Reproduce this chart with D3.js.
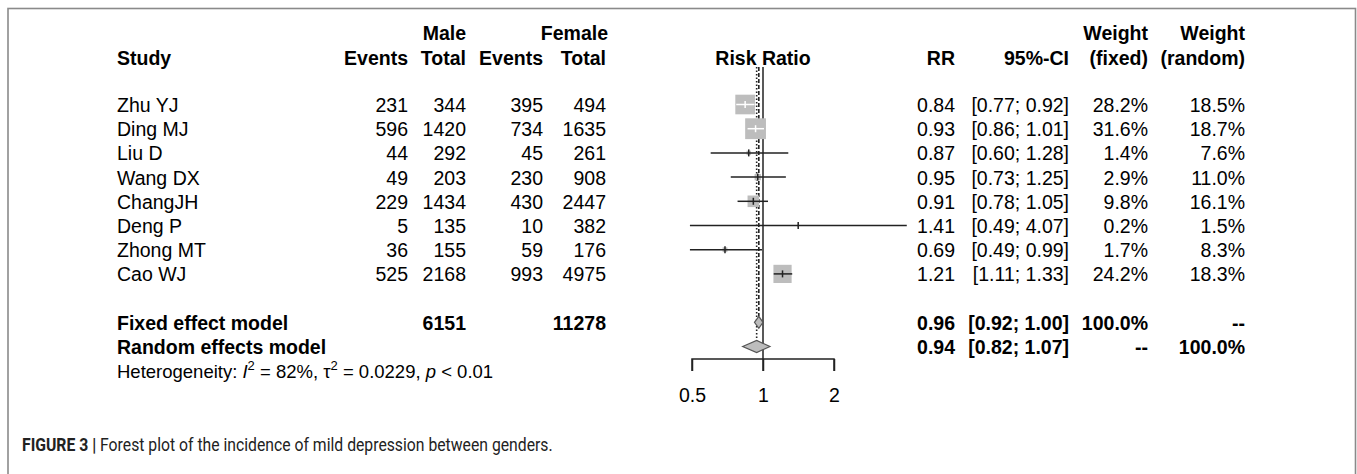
<!DOCTYPE html>
<html>
<head>
<meta charset="utf-8">
<script src="https://cdn.jsdelivr.net/npm/d3@7/dist/d3.min.js"></script>
<style>
  html, body { margin: 0; padding: 0; background: #fff; }
  svg { display: block; font-family: "Liberation Sans", Arial, sans-serif; }
</style>
</head>
<body>
<svg id="chart" width="1357" height="474"></svg>
<script>
// ---------- data ----------
const studies = ["Zhu YJ", "Ding MJ", "Liu D", "Wang DX", "ChangJH", "Deng P", "Zhong MT", "Cao WJ"];
const maleEvents = [231, 596, 44, 49, 229, 5, 36, 525];
const maleTotal = [344, 1420, 292, 203, 1434, 135, 155, 2168];
const femaleEvents = [395, 734, 45, 230, 430, 10, 59, 993];
const femaleTotal = [494, 1635, 261, 908, 2447, 382, 176, 4975];
const rr = [0.84, 0.93, 0.87, 0.95, 0.91, 1.41, 0.69, 1.21];
const lower = [0.77, 0.86, 0.60, 0.73, 0.78, 0.49, 0.49, 1.11];
const upper = [0.92, 1.01, 1.28, 1.25, 1.05, 4.07, 0.99, 1.33];
const weightFixed = [28.2, 31.6, 1.4, 2.9, 9.8, 0.2, 1.7, 24.2];
const weightRandom = [18.5, 18.7, 7.6, 11.0, 16.1, 1.5, 8.3, 18.3];
const pooledLabels = ["Fixed effect model", "Random effects model"];
const pooledMaleTotal = [6151, null];
const pooledFemaleTotal = [11278, null];
const pooledRR = [0.96, 0.94];
const pooledLower = [0.92, 0.82];
const pooledUpper = [1.00, 1.07];
const pooledWFixed = ["100.0%", "--"];
const pooledWRandom = ["--", "100.0%"];
const axisTicks = [0.5, 1, 2];

// ---------- setup ----------
const svg = d3.select("#chart");
const FS = 19.5;
const x = d3.scaleLog().domain([0.5, 2]).range([692, 834]);
const rowY = d3.scaleLinear().domain([0, 1]).range([104.5, 128.7]);
const sq = d3.scaleSqrt().domain([0, 31.6]).range([0, 20.8]);
const f2 = d3.format(".2f");
const f1 = d3.format(".1f");
const lineCol = "#222";

// frame
svg.append("rect").attr("x", 8).attr("y", 8.5).attr("width", 1347.5).attr("height", 480)
  .attr("fill", "none").attr("stroke", "#8a8a8a").attr("stroke-width", 1.6);

// column right edges
const col = { study: 117, mE: 408, mT: 466, fE: 543, fT: 606, rr: 955, ci: 1069, wf: 1148, wr: 1245 };

function txt(xp, yp, s, anchor, bold, size) {
  return svg.append("text").attr("x", xp).attr("y", yp)
    .attr("text-anchor", anchor || "end")
    .attr("font-size", size || FS)
    .attr("font-weight", bold ? "bold" : "normal")
    .attr("fill", "#000").text(s);
}

// ---------- headers ----------
const h1 = 39.5, h2 = 64.5;
txt(col.mT, h1, "Male", "end", true);
txt(col.fT + 2, h1, "Female", "end", true);
txt(col.wf, h1, "Weight", "end", true);
txt(col.wr, h1, "Weight", "end", true);
txt(col.study, h2, "Study", "start", true);
txt(col.mE, h2, "Events", "end", true);
txt(col.mT, h2, "Total", "end", true);
txt(col.fE, h2, "Events", "end", true);
txt(col.fT, h2, "Total", "end", true);
txt(x(1), h2, "Risk Ratio", "middle", true);
txt(col.rr, h2, "RR", "end", true);
txt(col.ci, h2, "95%-CI", "end", true);
txt(col.wf, h2, "(fixed)", "end", true);
txt(col.wr, h2, "(random)", "end", true);

// ---------- reference lines ----------
const topY = 67;
svg.append("line").attr("x1", x(1)).attr("x2", x(1)).attr("y1", topY).attr("y2", 371)
  .attr("stroke", lineCol).attr("stroke-width", 1.5);
// fixed (dashed) to fixed diamond
svg.append("line").attr("x1", x(pooledRR[0])).attr("x2", x(pooledRR[0]))
  .attr("y1", topY).attr("y2", rowY(9) - 6)
  .attr("stroke", "#222").attr("stroke-width", 1.6).attr("stroke-dasharray", "4,2");
// random (dotted) to random diamond
svg.append("line").attr("x1", x(pooledRR[1])).attr("x2", x(pooledRR[1]))
  .attr("y1", topY).attr("y2", rowY(10) - 6)
  .attr("stroke", "#222").attr("stroke-width", 1.6).attr("stroke-dasharray", "1.5,2");

// ---------- study rows ----------
studies.forEach((s, i) => {
  const y = rowY(i), b = y + 7.5;
  txt(col.study, b, s, "start");
  txt(col.mE, b, maleEvents[i]);
  txt(col.mT, b, maleTotal[i]);
  txt(col.fE, b, femaleEvents[i]);
  txt(col.fT, b, femaleTotal[i]);
  txt(col.rr, b, f2(rr[i]));
  txt(col.ci, b, "[" + f2(lower[i]) + "; " + f2(upper[i]) + "]");
  txt(col.wf, b, f1(weightFixed[i]) + "%");
  txt(col.wr, b, f1(weightRandom[i]) + "%");

  const side = sq(weightFixed[i]);
  const cx = x(rr[i]);
  svg.append("rect").attr("x", cx - side / 2).attr("y", y - side / 2)
    .attr("width", side).attr("height", side).attr("fill", "#bdbdbd");
  const inside = x(lower[i]) >= cx - side / 2 && x(upper[i]) <= cx + side / 2;
  const c = inside ? "#fff" : lineCol;
  svg.append("line").attr("x1", x(lower[i])).attr("x2", x(upper[i]))
    .attr("y1", y).attr("y2", y).attr("stroke", c).attr("stroke-width", 1.5);
  svg.append("line").attr("x1", cx).attr("x2", cx)
    .attr("y1", y - 3.5).attr("y2", y + 3.5).attr("stroke", c).attr("stroke-width", 1.5);
});

// ---------- pooled rows ----------
pooledLabels.forEach((s, k) => {
  const y = rowY(9 + k), b = y + 7.5;
  txt(col.study, b, s, "start", true);
  if (pooledMaleTotal[k] != null) txt(col.mT, b, pooledMaleTotal[k], "end", true);
  if (pooledFemaleTotal[k] != null) txt(col.fT, b, pooledFemaleTotal[k], "end", true);
  txt(col.rr, b, f2(pooledRR[k]), "end", true);
  txt(col.ci, b, "[" + f2(pooledLower[k]) + "; " + f2(pooledUpper[k]) + "]", "end", true);
  txt(col.wf, b, pooledWFixed[k], "end", true);
  txt(col.wr, b, pooledWRandom[k], "end", true);
  const h = 6;
  const pts = [[x(pooledLower[k]), y], [x(pooledRR[k]), y - h], [x(pooledUpper[k]), y], [x(pooledRR[k]), y + h]];
  svg.append("path").attr("d", d3.line()(pts) + "Z")
    .attr("fill", "#bdbdbd").attr("stroke", "#555").attr("stroke-width", 1.2);
});

// heterogeneity
const het = svg.append("text").attr("x", col.study).attr("y", rowY(11) + 7)
  .attr("font-size", 18.5).attr("fill", "#000");
het.append("tspan").text("Heterogeneity: ");
het.append("tspan").attr("font-style", "italic").text("I");
het.append("tspan").attr("font-size", 13).attr("dy", -8).text("2");
het.append("tspan").attr("dy", 8).text(" = 82%, τ");
het.append("tspan").attr("font-size", 13).attr("dy", -8).text("2");
het.append("tspan").attr("dy", 8).text(" = 0.0229, ");
het.append("tspan").attr("font-style", "italic").text("p");
het.append("tspan").text(" < 0.01");

// ---------- axis ----------
const axisY = 359;
const axisG = svg.append("g").attr("transform", `translate(0,${axisY})`)
  .call(d3.axisBottom(x).tickValues(axisTicks).tickFormat(d3.format("")).tickSize(12).tickPadding(17));
axisG.select(".domain").attr("d", `M${x(0.5)},12V0H${x(2)}V12`).attr("stroke", lineCol).attr("stroke-width", 1.5);
axisG.selectAll(".tick line").attr("stroke", lineCol).attr("stroke-width", 1.5);
axisG.selectAll(".tick text").attr("font-size", FS).attr("fill", "#000")
  .attr("font-family", "'Liberation Sans', Arial, sans-serif");

// ---------- caption ----------
const cap = svg.append("text").attr("transform", "translate(22,451) scale(0.89,1)")
  .attr("font-size", 17.7)
  .attr("font-family", "'Roboto', sans-serif").attr("fill", "#222");
cap.append("tspan").attr("font-weight", "bold").text("FIGURE 3 | ");
cap.append("tspan").text("Forest plot of the incidence of mild depression between genders.");
</script>
</body>
</html>
